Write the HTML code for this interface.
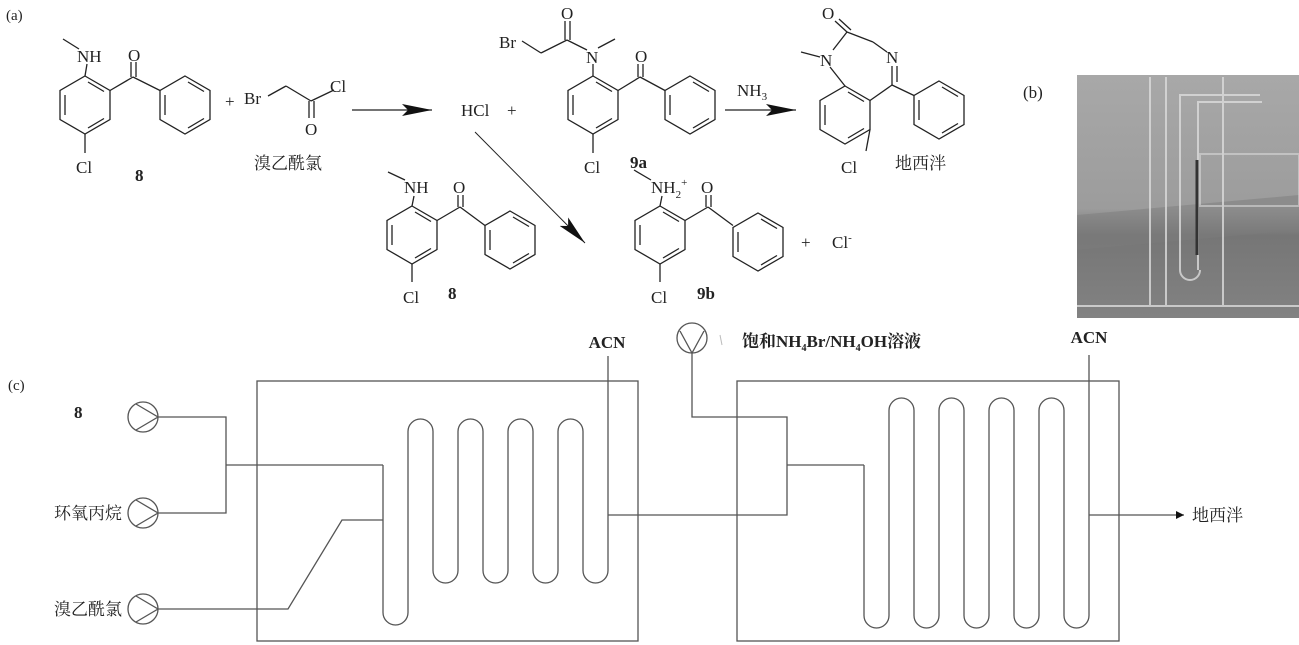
<!DOCTYPE html>
<html><head><meta charset="utf-8"><style>
html,body{margin:0;padding:0;background:#fff}
svg{display:block}
text{font-family:"Liberation Serif","Noto Serif CJK SC","Noto Sans CJK SC",serif;fill:#222}
.b{font-weight:bold}
</style></head><body>
<svg width="1299" height="645" viewBox="0 0 1299 645" xmlns="http://www.w3.org/2000/svg">
<defs>
<g id="hx" fill="none" stroke="#222" stroke-width="1.3">
<polygon points="0,-29 25,-14.5 25,14.5 0,29 -25,14.5 -25,-14.5"/>
<line x1="3" y1="-23" x2="19" y2="-13.5"/>
<line x1="19" y1="13.5" x2="3" y2="23"/>
<line x1="-20" y1="10" x2="-20" y2="-10"/>
</g>
<marker id="ah" markerUnits="userSpaceOnUse" markerWidth="32" markerHeight="14" refX="30" refY="6" orient="auto">
<path d="M0,0 L30,6 L0,12 L6,6 z" fill="#111"/>
</marker>
<marker id="sa" markerUnits="userSpaceOnUse" markerWidth="10" markerHeight="8" refX="8" refY="4" orient="auto">
<path d="M0,0 L8,4 L0,8 z" fill="#111"/>
</marker>
<linearGradient id="pg" x1="0" y1="0" x2="0" y2="1">
<stop offset="0" stop-color="#a8a8a8"/><stop offset="0.55" stop-color="#9c9c9c"/><stop offset="0.66" stop-color="#767676"/><stop offset="1" stop-color="#828282"/>
</linearGradient>
</defs>

<text x="6" y="20" font-size="15">(a)</text>
<g stroke="#222" stroke-width="1.3" fill="none">
<line x1="85" y1="76" x2="87" y2="64"/><line x1="79" y1="49" x2="63" y2="39"/>
<line x1="110" y1="90.5" x2="133" y2="77"/><line x1="131" y1="77" x2="131" y2="62"/><line x1="136" y1="77" x2="136" y2="62"/>
<line x1="133" y1="77" x2="160" y2="90.5"/>
<line x1="85" y1="134" x2="85" y2="153"/>
<line x1="268" y1="96" x2="286" y2="86"/><line x1="286" y1="86" x2="311" y2="101"/><line x1="311" y1="101" x2="334" y2="90"/>
<line x1="309" y1="101" x2="309" y2="118"/><line x1="314" y1="101" x2="314" y2="118"/>
<line x1="352" y1="110" x2="432" y2="110" marker-end="url(#ah)"/>
<line x1="475" y1="132" x2="585" y2="243" stroke-width="1" marker-end="url(#ah)"/>
<line x1="725" y1="110" x2="796" y2="110" marker-end="url(#ah)"/>
<line x1="522" y1="41" x2="541" y2="53"/><line x1="541" y1="53" x2="567" y2="40"/>
<line x1="565" y1="40" x2="565" y2="21"/><line x1="570" y1="40" x2="570" y2="21"/>
<line x1="567" y1="40" x2="587" y2="50"/><line x1="598" y1="48" x2="615" y2="39"/>
<line x1="593" y1="64" x2="593" y2="76"/>
<line x1="618" y1="90.5" x2="640" y2="77"/><line x1="638" y1="77" x2="638" y2="64"/><line x1="643" y1="77" x2="643" y2="64"/>
<line x1="640" y1="77" x2="665" y2="90.5"/>
<line x1="593" y1="134" x2="593" y2="153"/>
<line x1="847" y1="32" x2="835" y2="21"/><line x1="851" y1="30" x2="839" y2="19"/>
<line x1="847" y1="32" x2="833" y2="50"/><line x1="820" y1="57" x2="801" y2="52"/>
<line x1="830" y1="67" x2="845" y2="86"/>
<line x1="847" y1="32" x2="873" y2="42"/><line x1="873" y1="42" x2="887" y2="52"/>
<line x1="892" y1="85" x2="892" y2="66"/><line x1="897" y1="82" x2="897" y2="66"/>
<line x1="870" y1="100.5" x2="892" y2="85"/><line x1="892" y1="85" x2="914" y2="95.5"/>
<line x1="870" y1="129.5" x2="866" y2="151"/>
<line x1="412" y1="206" x2="414" y2="196"/><line x1="405" y1="180" x2="388" y2="172"/>
<line x1="437" y1="220.5" x2="460" y2="207"/><line x1="458" y1="207" x2="458" y2="195"/><line x1="463" y1="207" x2="463" y2="195"/>
<line x1="460" y1="207" x2="485" y2="225.5"/>
<line x1="412" y1="264" x2="412" y2="282"/>
<line x1="660" y1="206" x2="662" y2="196"/><line x1="651" y1="180" x2="634" y2="170"/>
<line x1="685" y1="220.5" x2="708" y2="207"/><line x1="706" y1="207" x2="706" y2="195"/><line x1="711" y1="207" x2="711" y2="195"/>
<line x1="708" y1="207" x2="733" y2="225.5"/>
<line x1="660" y1="264" x2="660" y2="282"/>
</g>
<use href="#hx" x="85" y="105"/>
<use href="#hx" x="185" y="105"/>
<use href="#hx" x="593" y="105"/>
<use href="#hx" x="690" y="105"/>
<use href="#hx" x="845" y="115"/>
<use href="#hx" x="939" y="110"/>
<use href="#hx" x="412" y="235"/>
<use href="#hx" x="510" y="240"/>
<use href="#hx" x="660" y="235"/>
<use href="#hx" x="758" y="242"/>

<g font-size="17">
<text x="77" y="62">NH</text><text x="128" y="61">O</text><text x="76" y="173">Cl</text><text x="135" y="181" class="b">8</text>
<text x="225" y="107">+</text><text x="244" y="104">Br</text><text x="330" y="92">Cl</text><text x="305" y="135">O</text>
<text x="254" y="169" font-family="'Noto Serif CJK SC','Noto Sans CJK SC',serif">溴乙酰氯</text>
<text x="461" y="116">HCl</text><text x="507" y="116">+</text>
<text x="499" y="48">Br</text><text x="561" y="19">O</text><text x="586" y="63">N</text><text x="635" y="62">O</text>
<text x="584" y="173">Cl</text><text x="630" y="168" class="b">9a</text>
<text x="737" y="96">NH<tspan font-size="11" dy="4">3</tspan></text>
<text x="822" y="19">O</text><text x="820" y="66">N</text><text x="886" y="63">N</text>
<text x="841" y="173">Cl</text><text x="895" y="169" font-family="'Noto Serif CJK SC','Noto Sans CJK SC',serif">地西泮</text>
<text x="1023" y="98">(b)</text>
<text x="404" y="193">NH</text><text x="453" y="193">O</text><text x="403" y="303">Cl</text><text x="448" y="299" class="b">8</text>
<text x="651" y="193">NH<tspan font-size="11" dy="5">2</tspan><tspan font-size="11" dy="-12">+</tspan></text>
<text x="701" y="193">O</text><text x="651" y="303">Cl</text><text x="697" y="299" class="b">9b</text>
<text x="801" y="248">+</text><text x="832" y="248">Cl<tspan font-size="11" dy="-7">-</tspan></text>
</g>

<rect x="1077" y="75" width="222" height="243" fill="url(#pg)"/>
<polygon points="1077,215 1299,195 1299,230 1077,250" fill="#7c7c7c" opacity="0.5"/>
<g stroke="#dcdcdc" stroke-width="2" fill="none" opacity="0.8">
<line x1="1150" y1="77" x2="1150" y2="305"/><line x1="1166" y1="77" x2="1166" y2="305"/>
<path d="M1180,270 V95 H1260"/><path d="M1198,270 V102 H1262"/>
<path d="M1180,270 a10,10 0 0 0 20,0"/>
<rect x="1200" y="154" width="99" height="52" opacity="0.7"/>
<line x1="1223" y1="77" x2="1223" y2="305"/>
<line x1="1077" y1="306" x2="1299" y2="306"/>
</g>
<line x1="1197" y1="160" x2="1197" y2="255" stroke="#333" stroke-width="3"/>

<text x="8" y="390" font-size="15">(c)</text>
<g font-size="17">
<text x="74" y="418" class="b">8</text>
<text x="122" y="519" text-anchor="end" font-family="'Noto Serif CJK SC','Noto Sans CJK SC',serif">环氧丙烷</text>
<text x="122" y="615" text-anchor="end" font-family="'Noto Serif CJK SC','Noto Sans CJK SC',serif">溴乙酰氯</text>
<text x="607" y="348" text-anchor="middle" class="b">ACN</text>
<text x="1089" y="343" text-anchor="middle" class="b">ACN</text>
<text x="742" y="347" class="b"><tspan font-family="'Noto Serif CJK SC','Noto Sans CJK SC',serif">饱和</tspan>NH<tspan font-size="10" dy="4">4</tspan><tspan dy="-4">Br/NH</tspan><tspan font-size="10" dy="4">4</tspan><tspan dy="-4">OH</tspan><tspan font-family="'Noto Serif CJK SC','Noto Sans CJK SC',serif">溶液</tspan></text>
<text x="1192" y="521" font-family="'Noto Serif CJK SC','Noto Sans CJK SC',serif">地西泮</text>
</g>
<g stroke="#555" stroke-width="1.3" fill="none">
<circle cx="143" cy="417" r="15"/><path d="M136,404 L158,417 L136,430"/>
<circle cx="143" cy="513" r="15"/><path d="M136,500 L158,513 L136,526"/>
<circle cx="143" cy="609" r="15"/><path d="M136,596 L158,609 L136,622"/>
<circle cx="692" cy="338" r="15"/><path d="M680,331 L692,353 L704,331"/>
<rect x="257" y="381" width="381" height="260"/>
<rect x="737" y="381" width="382" height="260"/>
<path d="M158,417 H226 V513 H158"/>
<path d="M226,465 H383"/>
<path d="M158,609 H288 L342,520 H383"/>
<path d="M383,465 V612.5 A12.5,12.5 0 0 0 408,612.5 V431.5 A12.5,12.5 0 0 1 433,431.5 V570.5 A12.5,12.5 0 0 0 458,570.5 V431.5 A12.5,12.5 0 0 1 483,431.5 V570.5 A12.5,12.5 0 0 0 508,570.5 V431.5 A12.5,12.5 0 0 1 533,431.5 V570.5 A12.5,12.5 0 0 0 558,570.5 V431.5 A12.5,12.5 0 0 1 583,431.5 V570.5 A12.5,12.5 0 0 0 608,570.5 V356"/>
<path d="M608,515 H787 V417 H692 V353"/>
<path d="M787,465 H864"/>
<path d="M864,465 V615.5 A12.5,12.5 0 0 0 889,615.5 V410.5 A12.5,12.5 0 0 1 914,410.5 V615.5 A12.5,12.5 0 0 0 939,615.5 V410.5 A12.5,12.5 0 0 1 964,410.5 V615.5 A12.5,12.5 0 0 0 989,615.5 V410.5 A12.5,12.5 0 0 1 1014,410.5 V615.5 A12.5,12.5 0 0 0 1039,615.5 V410.5 A12.5,12.5 0 0 1 1064,410.5 V615.5 A12.5,12.5 0 0 0 1089,615.5 V355"/>
<path d="M1089,515 H1184" marker-end="url(#sa)"/>
</g>
<line x1="720" y1="335" x2="722" y2="345" stroke="#bbb" stroke-width="1"/>
</svg>
</body></html>
